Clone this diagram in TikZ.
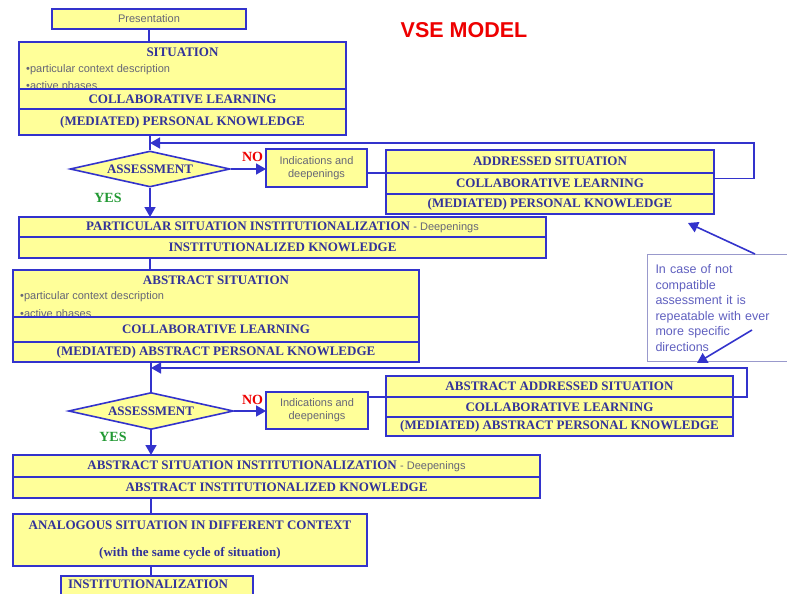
\documentclass[tikz,border=0pt]{standalone}
\usepackage{fontspec}
\setmainfont{Liberation Serif}
\setsansfont{Liberation Sans}
\usetikzlibrary{shapes.geometric,arrows.meta}

\definecolor{boxfill}{HTML}{FFFF99}
\definecolor{boxline}{HTML}{3333CC}
\definecolor{boxtext}{HTML}{333399}
\definecolor{greytext}{HTML}{666677}
\definecolor{notetext}{HTML}{6060C0}
\definecolor{noteline}{HTML}{9999CC}
\definecolor{titlered}{HTML}{EE0000}
\definecolor{yesgreen}{HTML}{229933}

\newcommand\bxfont{\fontsize{13}{15}\selectfont\bfseries}
\newcommand\smfont{\sffamily\fontsize{11}{13}\selectfont}

\begin{document}
\begin{tikzpicture}[x=1pt,y=-1pt,
  box/.style={draw=boxline,fill=boxfill,line width=1.6pt,inner sep=0pt,
    outer sep=0pt,anchor=north west,text=boxtext,font=\bxfont},
  small/.style={font=\smfont,text=greytext,align=center},
  bullet/.style={anchor=west,inner sep=0pt,font=\smfont,text=greytext},
  test/.style={diamond,draw=boxline,fill=boxfill,line width=1.6pt,inner sep=0pt,
    aspect=4,text=boxtext,font=\bxfont},
  link/.style={draw=boxline,line width=1.6pt},
  arr/.style={link,-{Triangle[length=10pt,width=11pt]}},
  nolbl/.style={font=\fontsize{14}{16}\selectfont\bfseries,text=titlered},
  yeslbl/.style={font=\fontsize{14}{16}\selectfont\bfseries,text=yesgreen}]
  \useasboundingbox[fill=white] (0,0) rectangle (787,594);

  % title
  \node[font=\sffamily\bfseries\fontsize{21.5}{24}\selectfont,text=titlered]
    (title) at (464,30) {VSE MODEL};

  % first cycle
  \node[box,small,minimum width=194,minimum height=20] (pres) at (52,9) {Presentation};
  \node[box,minimum width=327,minimum height=47] (sit) at (19,42) {};
  \node[font=\bxfont,text=boxtext] (sittitle) at (182.5,52.5) {SITUATION};
  \node[bullet] (sitb1) at (26,70) {•particular context description};
  \node[bullet] (sitb2) at (26,87) {•active phases};
  \node[box,minimum width=327,minimum height=20] (sitcol) at (19,89) {COLLABORATIVE LEARNING};
  \node[box,minimum width=327,minimum height=26] (sitmed) at (19,109) {(MEDIATED) PERSONAL KNOWLEDGE};

  \node[test,minimum width=160,minimum height=36] (ass1) at (150,169) {ASSESSMENT};
  \node[nolbl] (no1) at (252.5,157) {NO};
  \node[yeslbl] (yes1) at (108,198) {YES};
  \node[box,small,minimum width=101,minimum height=38] (ind1) at (266,149)
    {Indications and\\deepenings};
  \node[box,minimum width=328,minimum height=23] (adr) at (386,150) {ADDRESSED SITUATION};
  \node[box,minimum width=328,minimum height=21] (adrcol) at (386,173) {COLLABORATIVE LEARNING};
  \node[box,minimum width=328,minimum height=20] (adrmed) at (386,194) {(MEDIATED) PERSONAL KNOWLEDGE};

  \node[box,minimum width=527,minimum height=20] (part) at (19,217)
    {PARTICULAR SITUATION INSTITUTIONALIZATION {\smfont\mdseries\color{greytext} - Deepenings}};
  \node[box,minimum width=527,minimum height=21] (partkn) at (19,237) {INSTITUTIONALIZED KNOWLEDGE};

  % second cycle
  \node[box,minimum width=406,minimum height=47] (abs) at (13,270) {};
  \node[font=\bxfont,text=boxtext] (abstitle) at (216,280) {ABSTRACT SITUATION};
  \node[bullet] (absb1) at (20,297) {•particular context description};
  \node[bullet] (absb2) at (20,315) {•active phases};
  \node[box,minimum width=406,minimum height=25] (abscol) at (13,317) {COLLABORATIVE LEARNING};
  \node[box,minimum width=406,minimum height=20] (absmed) at (13,342) {(MEDIATED) ABSTRACT PERSONAL KNOWLEDGE};

  \node[draw=noteline,fill=white,line width=1pt,anchor=north west,inner xsep=8pt,
    inner ysep=0pt,minimum height=107,text width=136,align=left,text=notetext,
    font=\sffamily\fontsize{12.5}{15.5}\selectfont] (note) at (647,254)
    {In case of not\\compatible\\assessment it is\\repeatable with ever\\more specific\\directions};

  \node[test,minimum width=165,minimum height=37] (ass2) at (151,411) {ASSESSMENT};
  \node[nolbl] (no2) at (252.5,400) {NO};
  \node[yeslbl] (yes2) at (113,437) {YES};
  \node[box,small,minimum width=102,minimum height=37] (ind2) at (266,392)
    {Indications and\\deepenings};
  \node[box,minimum width=347,minimum height=21] (aadr) at (386,376) {ABSTRACT ADDRESSED SITUATION};
  \node[box,minimum width=347,minimum height=20] (aadrcol) at (386,397) {COLLABORATIVE LEARNING};
  \node[box,minimum width=347,minimum height=19] (aadrmed) at (386,417) {(MEDIATED) ABSTRACT PERSONAL KNOWLEDGE};

  \node[box,minimum width=527,minimum height=22] (ainst) at (13,455)
    {ABSTRACT SITUATION INSTITUTIONALIZATION {\smfont\mdseries\color{greytext} - Deepenings}};
  \node[box,minimum width=527,minimum height=21] (ainstkn) at (13,477) {ABSTRACT INSTITUTIONALIZED KNOWLEDGE};

  \node[box,minimum width=354,minimum height=52,align=center] (analog) at (13,514)
    {ANALOGOUS SITUATION IN DIFFERENT CONTEXT\\[12pt](with the same cycle of situation)};
  \node[box,text width=178,inner xsep=7pt,minimum height=30,text height=9pt,
    text depth=15pt,align=left] (inst) at (61,576) {INSTITUTIONALIZATION};

  % connectors
  \draw[link] (pres.south) -- (pres.south |- sit.north);
  \draw[link] (sitmed.south -| ass1.north) -- (ass1.north);
  \draw[arr] (ass1.east) -- (ind1.west |- ass1.east);
  \draw[link] (ind1.east |- adrcol.north) -- (adrcol.north west);
  \coordinate (back1) at (754,143);
  \draw[arr] ([yshift=5pt]adrcol.east) -| (back1) -- (back1 -| ass1.north);
  \draw[arr] (ass1.south) -- (ass1.south |- part.north);
  \draw[link] (ass1.south |- partkn.south) -- (ass1.south |- abs.north);

  \draw[link] (absmed.south -| ass2.north) -- (ass2.north);
  \draw[arr] (ass2.east) -- (ind2.west |- ass2.east);
  \draw[link] (ind2.east |- aadrcol.north) -- (aadrcol.north west);
  \coordinate (back2) at (747,368);
  \draw[arr] (aadrcol.north east) -| (back2) -- (back2 -| ass2.north);
  \draw[arr] (ass2.south) -- (ass2.south |- ainst.north);
  \draw[link] (ass2.south |- ainstkn.south) -- (ass2.south |- analog.north);
  \draw[link] (ass2.south |- analog.south) -- (ass2.south |- inst.north);

  % note arrows
  \coordinate (tipA) at (688,223);
  \coordinate (tipB) at (697,363);
  \draw[arr] ([xshift=108pt]note.north west) -- (tipA);
  \draw[arr] ([xshift=105pt,yshift=-76pt]note.north west) -- (tipB);
\end{tikzpicture}
\end{document}
